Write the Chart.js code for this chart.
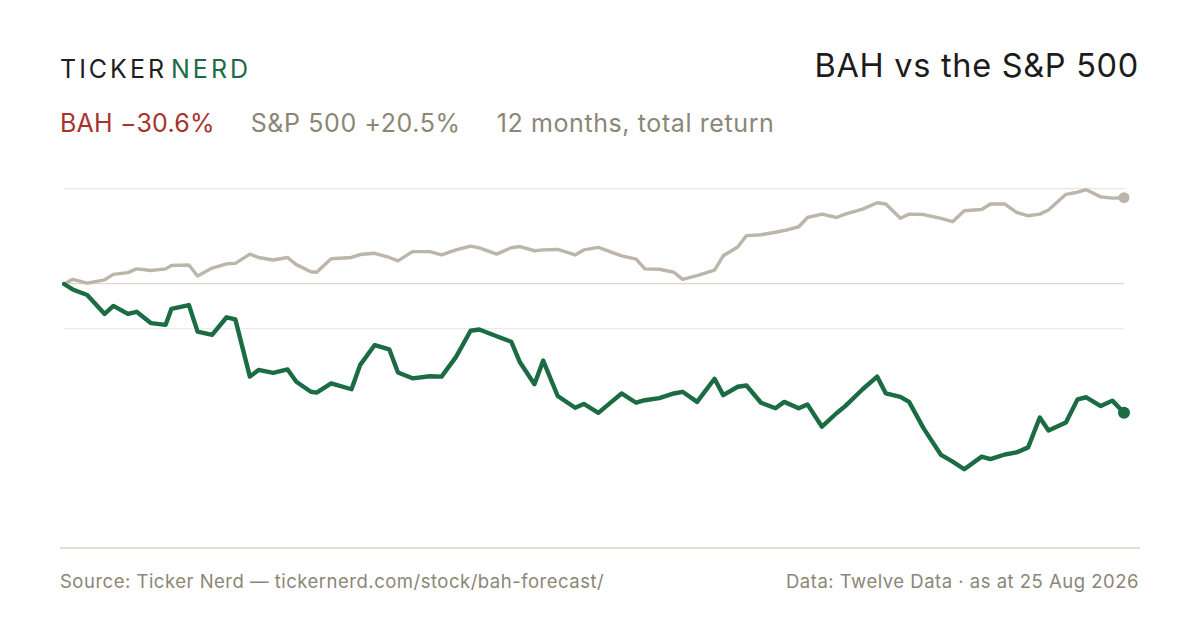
<!DOCTYPE html>
<html>
<head>
<meta charset="utf-8">
<script src="https://cdn.jsdelivr.net/npm/chart.js@4.4.1/dist/chart.umd.min.js"></script>
<style>
  html, body { margin: 0; padding: 0; background: #ffffff; }
  body { width: 1200px; height: 630px; position: relative; overflow: hidden; font-family: Inter, "Noto Sans", sans-serif; }
  .abs { position: absolute; white-space: nowrap; }
  #brand { left: 60px; top: 57px; font-size: 25px; line-height: 25px; letter-spacing: 3px; color: #1e1e1e; }
  #brand .nerd { color: #1b6b43; margin-left: 4px; }
  #title { right: 61px; top: 50px; font-size: 32.5px; line-height: 32.5px; letter-spacing: 0.7px; color: #1c1c1c; }
  #sub { left: 60px; top: 110.5px; font-size: 25px; line-height: 25px; letter-spacing: 0.6px; color: #8b8676; }
  #sub .bah { color: #a8322e; margin-right: 36px; letter-spacing: 0.2px; }
  #sub .spx { margin-right: 36px; }
  #rule { left: 60px; top: 547px; width: 1080px; height: 2px; background: #e2ded3; }
  .foot { top: 572px; font-size: 18.5px; line-height: 18.5px; letter-spacing: 0.5px; color: #8b8676; }
  #footL { left: 60px; }
  #footR { right: 61px; }
  #wrap { position: absolute; left: 0; top: 150px; width: 1200px; height: 400px; }
</style>
</head>
<body>
<div id="brand" class="abs">TICKER<span class="nerd">NERD</span></div>
<div id="title" class="abs">BAH vs the S&amp;P 500</div>
<div id="sub" class="abs"><span class="bah">BAH −30.6%</span><span class="spx">S&amp;P 500 +20.5%</span><span>12 months, total return</span></div>
<div id="wrap"><canvas id="c" width="1200" height="400"></canvas></div>
<div id="rule" class="abs"></div>
<div id="footL" class="abs foot">Source: Ticker Nerd — tickernerd.com/stock/bah-forecast/</div>
<div id="footR" class="abs foot">Data: Twelve Data · as at 25 Aug 2026</div>
<script>
// Days since 25 Aug 2025 for each sample
const dayOffsets = [0,3,8,14,17,22,25,30,35,37,43,46,51,56,59,64,67,72,77,80,85,87,92,99,102,107,112,115,120,126,130,135,140,143,149,154,157,162,165,170,176,179,184,188,192,197,200,205,210,213,218,224,227,232,235,240,245,248,253,256,261,266,269,275,280,283,288,291,296,302,306,310,316,319,324,328,332,336,339,345,349,352,357,361,365];
// BAH cumulative total return, %
const bahReturn = [0,-1.3,-2.6,-7.1,-5.2,-7.1,-6.6,-9.3,-9.7,-5.9,-5.0,-11.3,-12.1,-7.9,-8.4,-22.0,-20.4,-21.1,-20.3,-23.2,-25.6,-25.8,-23.6,-25.0,-19.2,-14.5,-15.5,-21.0,-22.4,-21.9,-22.0,-17.3,-11.1,-10.8,-12.4,-13.7,-18.6,-23.8,-18.2,-26.6,-29.4,-28.5,-30.6,-28.3,-26.0,-28.2,-27.6,-27.1,-26.0,-25.6,-28.0,-22.5,-26.4,-24.4,-24.1,-28.2,-29.5,-28.0,-29.5,-28.6,-33.9,-30.7,-29.0,-25.0,-22.0,-26.0,-26.8,-28.0,-34.3,-40.6,-42.2,-44.0,-41.0,-41.6,-40.5,-40.0,-38.8,-31.7,-34.8,-32.9,-27.4,-26.9,-29.0,-27.7,-30.6];
// S&P 500 cumulative total return, %
const spxReturn = [0,1.1,0.2,1.0,2.3,2.7,3.6,3.2,3.6,4.4,4.5,1.9,3.8,4.8,4.9,7.1,6.3,5.7,6.3,4.6,2.9,2.8,6.0,6.3,7.0,7.3,6.3,5.5,7.7,7.7,6.9,8.1,9.0,8.6,7.1,8.6,8.9,7.9,8.1,8.2,6.9,8.1,8.7,7.7,6.7,5.9,3.6,3.5,2.8,1.1,2.0,3.3,6.7,8.8,11.5,11.7,12.3,12.7,13.6,15.8,16.6,15.8,16.6,17.8,19.3,19.0,15.6,16.6,16.5,15.6,14.8,17.4,17.7,19.0,19.0,17.0,16.2,16.6,17.6,21.3,21.8,22.4,20.7,20.4,20.5];
// Horizontal reference lines, %
const gridValues = [22.57, 0, -10.69];

const GREEN = '#1b6b43';
const BEIGE = '#bcb5a9';

const toPts = arr => arr.map((v, i) => ({ x: dayOffsets[i], y: v }));
const lastDot = (r) => (ctx) => ctx.dataIndex === dayOffsets.length - 1 ? r : 0;

new Chart(document.getElementById('c'), {
  type: 'line',
  data: {
    datasets: [
      {
        label: 'BAH',
        data: toPts(bahReturn),
        borderColor: GREEN,
        backgroundColor: GREEN,
        borderWidth: 4.4,
        pointRadius: lastDot(6),
        pointBackgroundColor: GREEN,
        pointBorderWidth: 0,
        pointHoverRadius: 0,
        borderJoinStyle: 'round',
        borderCapStyle: 'round',
        tension: 0,
        clip: false
      },
      {
        label: 'S&P 500',
        data: toPts(spxReturn),
        borderColor: BEIGE,
        backgroundColor: BEIGE,
        borderWidth: 3.4,
        pointRadius: lastDot(5.5),
        pointBackgroundColor: BEIGE,
        pointBorderWidth: 0,
        pointHoverRadius: 0,
        borderJoinStyle: 'round',
        borderCapStyle: 'round',
        tension: 0,
        clip: false
      }
    ]
  },
  options: {
    responsive: false,
    animation: false,
    events: [],
    layout: { autoPadding: false, padding: { left: 64, right: 76, top: 0, bottom: 0 } },
    plugins: { legend: { display: false }, tooltip: { enabled: false } },
    scales: {
      x: { type: 'linear', min: 0, max: 365, display: false },
      y: {
        type: 'linear',
        min: -63.18,
        max: 31.83,
        position: 'left',
        border: { display: false },
        ticks: { display: false },
        afterBuildTicks: (scale) => { scale.ticks = gridValues.map(v => ({ value: v })); },
        afterFit: (scale) => { scale.width = 0; },
        grid: {
          drawTicks: false,
          lineWidth: 1.2,
          color: (ctx) => ctx.tick && ctx.tick.value === 0 ? '#ddd8cb' : (ctx.tick && ctx.tick.value > 0 ? '#e9e5db' : '#eeebe5')
        }
      }
    }
  }
});
</script>
</body>
</html>
